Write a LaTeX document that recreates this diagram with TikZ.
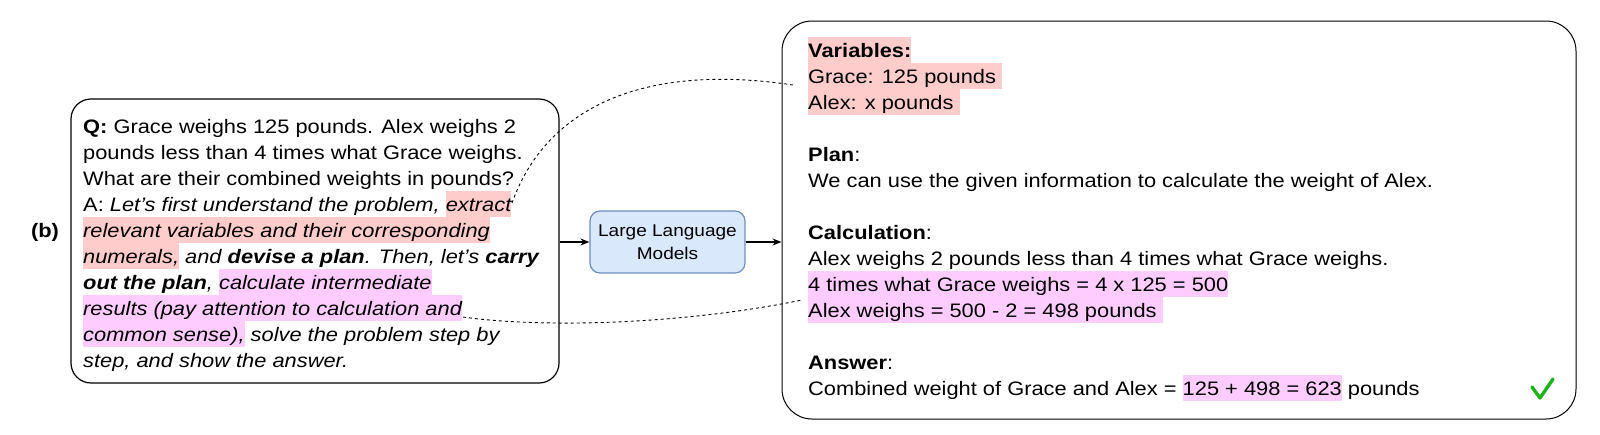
\documentclass[tikz,border=0pt]{standalone}
\usepackage{fontspec}
\setmainfont{Liberation Sans}[FakeStretch=1.12]
\usetikzlibrary{arrows.meta}
\definecolor{hlred}{HTML}{FFCCCC}
\definecolor{hlmag}{HTML}{FFCCFF}
\definecolor{llmfill}{HTML}{DAE8FC}
\definecolor{llmdraw}{HTML}{6C8EBF}
\definecolor{checkgreen}{HTML}{1DB31D}
\newcommand\lstrut{\rule[-6pt]{0pt}{26pt}}
\newcommand\hlr[1]{{\setlength{\fboxsep}{0pt}\colorbox{hlred}{\lstrut #1}}}
\newcommand\hlm[1]{{\setlength{\fboxsep}{0pt}\colorbox{hlmag}{\lstrut #1}}}
\newcommand\bodyfont{\fontsize{19.5}{26}\selectfont}
\tikzset{
  panel/.style={draw=black, line width=1.2pt, fill=white, inner sep=0pt},
  txt/.style={anchor=north west, inner sep=0pt, align=left, font=\bodyfont},
  llmbox/.style={draw=llmdraw, fill=llmfill, line width=1.2pt, rounded corners=10pt,
    minimum width=155pt, minimum height=62pt, inner sep=0pt, align=center,
    font=\fontsize{17}{23}\selectfont},
  arr/.style={-{Stealth[length=9pt,width=7pt]}, line width=1.2pt, black},
  dashline/.style={dash pattern=on 3pt off 3pt, line width=0.9pt, black},
  check/.style={line width=3.4pt, checkgreen, line cap=round, line join=round}
}
\begin{document}
\begin{tikzpicture}[x=1pt,y=-1pt]
\useasboundingbox (0,0) rectangle (1600,434);
% panels
\node[panel, rounded corners=20pt, minimum width=488pt, minimum height=284pt] (qbox) at (315,241) {};
\node[panel, line width=1pt, rounded corners=30pt, minimum width=794pt, minimum height=398pt] (abox) at (1179,220) {};
\node[llmbox] (llm) at (667.5,242) {Large Language\\Models};
% label
\node[anchor=base, inner sep=0pt, font=\fontsize{19.5}{26}\selectfont\bfseries] (lab) at (45,237) {(b)};
% question text
\node[txt] (qtext) at (83,113) {%
\lstrut\textbf{Q:} Grace weighs 125 pounds. Alex weighs 2\\
\lstrut pounds less than 4 times what Grace weighs.\\
\lstrut What are their combined weights in pounds?\\
\lstrut A: \textit{Let’s first understand the problem, \hlr{extract}}\\
\itshape\hlr{relevant variables and their corresponding}\\
\itshape\hlr{numerals,} and \textbf{devise a plan}. Then, let’s \textbf{carry}\\
\itshape\lstrut\textbf{out the plan}, \hlm{calculate intermediate}\\
\itshape\hlm{results (pay attention to calculation and}\\
\itshape\hlm{common sense),} solve the problem step by\\
\itshape\lstrut step, and show the answer.};
% answer text
\node[txt] (atext) at (808,37) {%
\hlr{\textbf{Variables:}}\\
\hlr{Grace: 125 pounds\ }\\
\hlr{Alex: x pounds\ }\\
\lstrut\\
\lstrut\textbf{Plan}:\\
\lstrut We can use the given information to calculate the weight of Alex.\\
\lstrut\\
\lstrut\textbf{Calculation}:\\
\lstrut Alex weighs 2 pounds less than 4 times what Grace weighs.\\
\hlm{4 times what Grace weighs = 4 x 125 = 500}\\
\hlm{Alex weighs = 500 - 2 = 498 pounds\ }\\
\lstrut\\
\lstrut\textbf{Answer}:\\
\lstrut Combined weight of Grace and Alex = \hlm{125 + 498 = 623} pounds};
% arrows
\draw[arr] (qbox.east |- llm.west) -- (llm.west);
\draw[arr] (llm.east) -- (abox.west |- llm.east);
% dashed links
\coordinate (ext) at (512,203);
\coordinate (vars) at (793,85);
\coordinate (res) at (463,317);
\coordinate (calc) at (802,300);
\draw[dashline] (ext) .. controls (545,110) and (640,62) .. (vars);
\draw[dashline] (res) .. controls (540,328) and (680,325) .. (calc);
% check mark
\draw[check] (1532,387) -- (1540,398) -- (1553,379);
\end{tikzpicture}
\end{document}
